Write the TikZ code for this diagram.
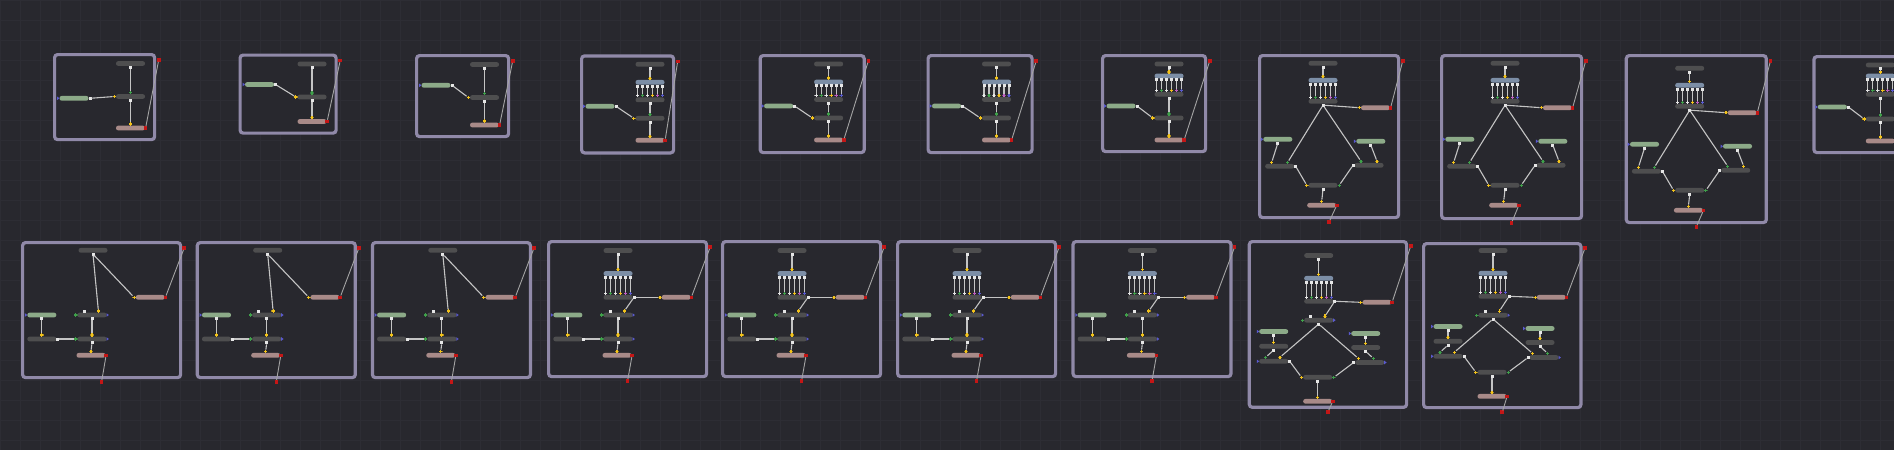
\documentclass[tikz,border=0pt]{standalone}
\usetikzlibrary{positioning}

\definecolor{bgDark}{HTML}{28282E}
\definecolor{gridDark}{HTML}{2D2D34}
\definecolor{frameLav}{HTML}{9089A8}
\definecolor{barGray}{HTML}{4E4E4F}
\definecolor{barGreen}{HTML}{8CAA88}
\definecolor{barPink}{HTML}{A88A88}
\definecolor{barBlue}{HTML}{7C8EA6}
\definecolor{sockWhite}{HTML}{E6E6E6}
\definecolor{sockYellow}{HTML}{F2C21A}
\definecolor{sockGreen}{HTML}{3FA04A}
\definecolor{sockBlue}{HTML}{5A5AD0}
\definecolor{sockMagenta}{HTML}{C060C0}
\definecolor{sockRed}{HTML}{C41616}
\definecolor{wireGray}{HTML}{C4C4C4}
\definecolor{linkGray}{HTML}{A4A4A4}

\tikzset{
  bar/.style={rectangle, rounded corners=2.2pt, minimum width=29pt, minimum height=4.7pt,
    inner sep=0pt, outer sep=0pt, fill=#1},
  graybar/.style={bar=barGray},
  greenbar/.style={bar=barGreen},
  pinkbar/.style={bar=barPink},
  bluebar/.style={bar=barBlue},
  outsq/.style={rectangle, fill=sockWhite, minimum size=3pt, inner sep=0pt, outer sep=0pt},
  redsq/.style={rectangle, fill=sockRed, minimum size=3.6pt, inner sep=0pt, outer sep=0pt},
  insock/.style={rectangle, minimum size=3.4pt, inner sep=0pt, outer sep=0pt,
    path picture={
      \fill[#1] ([xshift=-0.55pt]path picture bounding box.north) rectangle ([xshift=0.55pt]path picture bounding box.south);
      \fill[#1] ([yshift=-0.55pt]path picture bounding box.west) rectangle ([yshift=0.55pt]path picture bounding box.east);}},
  insock/.default=sockYellow,
  intri/.style={rectangle, minimum width=2.4pt, minimum height=3.6pt, inner sep=0pt, outer sep=0pt,
    path picture={\fill[sockBlue] (path picture bounding box.north west) -- (path picture bounding box.east)
      -- (path picture bounding box.south west) -- cycle;}},
  panelframe/.style={rectangle, draw=frameLav, line width=3.2pt, rounded corners=3pt, fill=bgDark,
    inner sep=0pt, anchor=north west},
  wire/.style={draw=wireGray, line width=1.1pt},
  link/.style={draw=linkGray, line width=0.9pt},
  gridline/.style={draw=gridDark, line width=0.5pt},
}

% stems between the blue node and the node below it
\newcommand\combstems[1]{%
  \foreach \stem/\stemc in {0/sockWhite,1/sockGreen,2/sockWhite,3/sockYellow,4/sockMagenta,5/sockBlue}{%
    \node[outsq, anchor=north] (#1-bo\stem) at ([xshift={-12.5pt+5pt*\stem}]#1-blue.south) {};
    \node[insock=\stemc, anchor=south] (#1-ci\stem) at ([xshift={-12.5pt+5pt*\stem}]#1-comb.north) {};
    \draw[wire] (#1-bo\stem) -- (#1-ci\stem);
  }}

% top node, blue node, combine node
\newcommand\combhead[5]{%
  \node[graybar] (#1-top) at (#2,#3) {};
  \node[bluebar] (#1-blue) at (#2,#4) {};
  \node[graybar] (#1-comb) at (#2,#5) {};
  \node[outsq, below=0pt of #1-top] (#1-topo) {};
  \node[insock, above=0pt of #1-blue] (#1-bluei) {};
  \draw[wire] (#1-topo) -- (#1-bluei);
  \combstems{#1}}

% name, x, y, w, h, green y
\newcommand\chainpanel[6]{%
\begin{scope}[shift={(#2,#3)}]
  \node[panelframe, minimum width=#4pt, minimum height=#5pt] (#1) at (0,0) {};
  \node[graybar] (#1-top) at ({#4-22.5},10.5) {};
  \node[graybar] (#1-mid) at ({#4-22.5},43.5) {};
  \node[pinkbar] (#1-out) at ({#4-22.5},{#5-10}) {};
  \node[greenbar] (#1-src) at (21,#6) {};
  \node[outsq, below=0pt of #1-top] (#1-topo) {};
  \node[insock=sockGreen, above=0pt of #1-mid] (#1-midi) {};
  \node[insock, left=0pt of #1-mid] (#1-midl) {};
  \node[outsq, below=0pt of #1-mid] (#1-mido) {};
  \node[insock, above=0pt of #1-out] (#1-outi) {};
  \node[redsq, right=-1.2pt of #1-out] (#1-outr) {};
  \node[intri, left=0pt of #1-src] (#1-srci) {};
  \node[outsq, right=0pt of #1-src] (#1-srco) {};
  \node[redsq] (#1-rt) at ([xshift=2.5pt,yshift=-7pt]#1.north east) {};
  \draw[wire] (#1-topo) -- (#1-midi);
  \draw[wire] (#1-mido) -- (#1-outi);
  \draw[wire] (#1-srco) -- (#1-midl);
  \draw[link] (#1-outr) -- (#1-rt);
\end{scope}}

% name, x, y, w, h, column x, blue y, combine y
\newcommand\combpanel[8]{%
\begin{scope}[shift={(#2,#3)}]
  \node[panelframe, minimum width=#4pt, minimum height=#5pt] (#1) at (0,0) {};
  \combhead{#1}{#6}{10}{#7}{#8}
  \node[graybar] (#1-mid) at (#6,64) {};
  \node[pinkbar] (#1-out) at (#6,86) {};
  \node[greenbar] (#1-src) at (20,52) {};
  \node[outsq, below=0pt of #1-comb] (#1-combo) {};
  \node[insock=sockGreen, above=0pt of #1-mid] (#1-midi) {};
  \node[insock, left=0pt of #1-mid] (#1-midl) {};
  \node[outsq, below=0pt of #1-mid] (#1-mido) {};
  \node[insock, above=0pt of #1-out] (#1-outi) {};
  \node[redsq, right=-1.2pt of #1-out] (#1-outr) {};
  \node[intri, left=0pt of #1-src] (#1-srci) {};
  \node[outsq, right=0pt of #1-src] (#1-srco) {};
  \node[redsq] (#1-rt) at ([xshift=2.5pt,yshift=-7pt]#1.north east) {};
  \draw[wire] (#1-combo) -- (#1-midi);
  \draw[wire] (#1-mido) -- (#1-outi);
  \draw[wire] (#1-srco) -- (#1-midl);
  \draw[link] (#1-outr) -- (#1-rt);
\end{scope}}

% name, x, y, w, h, inner shift down
\newcommand\diamondpanel[6]{%
\begin{scope}[shift={(#2,#3)}]
  \node[panelframe, minimum width=#4pt, minimum height=#5pt] (#1) at (0,0) {};
  \node[redsq] (#1-rt) at ([xshift=2.5pt,yshift=-7pt]#1.north east) {};
  \node[redsq] (#1-rb) at ([yshift=-2.5pt]#1.south) {};
  \begin{scope}[yshift=-#6pt]
    \combhead{#1}{65}{9.3}{26.3}{47.3}
    \node[pinkbar] (#1-out) at (117.5,53.7) {};
    \node[greenbar] (#1-srcl) at (19.8,85.3) {};
    \node[graybar] (#1-mixl) at (21.7,112.3) {};
    \node[greenbar] (#1-srcr) at (112.8,87.3) {};
    \node[graybar] (#1-mixr) at (111,111.3) {};
    \node[graybar] (#1-join) at (65,131.3) {};
    \node[pinkbar] (#1-outb) at (63.7,151.3) {};
    \node[outsq, below=0pt of #1-comb] (#1-combo) {};
    \node[insock, left=0pt of #1-out] (#1-outi) {};
    \node[redsq, right=-1.2pt of #1-out] (#1-outr) {};
    \node[intri, left=0pt of #1-srcl] (#1-srcli) {};
    \node[outsq, below=0pt of #1-srcl] (#1-srclo) {};
    \node[insock, anchor=south] (#1-mixla) at ([xshift=-8pt]#1-mixl.north) {};
    \node[insock=sockGreen, anchor=south] (#1-mixlb) at ([xshift=8pt]#1-mixl.north) {};
    \node[outsq, right=0pt of #1-mixl] (#1-mixlo) {};
    \node[intri, left=0pt of #1-srcr] (#1-srcri) {};
    \node[outsq, below=0pt of #1-srcr] (#1-srcro) {};
    \node[insock=sockGreen, anchor=south] (#1-mixra) at ([xshift=-8pt]#1-mixr.north) {};
    \node[insock, anchor=south] (#1-mixrb) at ([xshift=8pt]#1-mixr.north) {};
    \node[outsq, left=0pt of #1-mixr] (#1-mixro) {};
    \node[insock, left=0pt of #1-join] (#1-joinl) {};
    \node[insock=sockGreen, right=0pt of #1-join] (#1-joinr) {};
    \node[outsq, below=0pt of #1-join] (#1-joino) {};
    \node[insock, above=0pt of #1-outb] (#1-outbi) {};
    \node[redsq, right=-1.2pt of #1-outb] (#1-outbr) {};
    \draw[wire] (#1-combo) -- (#1-outi);
    \draw[wire] (#1-combo) -- (#1-mixlb);
    \draw[wire] (#1-combo) -- (#1-mixra);
    \draw[wire] (#1-srclo) -- (#1-mixla);
    \draw[wire] (#1-srcro) -- (#1-mixrb);
    \draw[wire] (#1-mixlo) -- (#1-joinl);
    \draw[wire] (#1-mixro) -- (#1-joinr);
    \draw[wire] (#1-joino) -- (#1-outbi);
  \end{scope}
  \draw[link] (#1-outr) -- (#1-rt);
  \draw[link] (#1-outbr) -- (#1-rb);
\end{scope}}

% lower part shared by the split panels: name, row y of switch, row y of mix, pink y
\newcommand\splitbody[4]{%
  \node[greenbar] (#1-src) at (20.8,#2) {};
  \node[graybar] (#1-sw) at (71,#2) {};
  \node[graybar] (#1-pre) at (20.8,#3) {};
  \node[graybar] (#1-mix) at (71,#3) {};
  \node[pinkbar] (#1-outb) at (70,#4) {};
  \node[intri, left=0pt of #1-src] (#1-srci) {};
  \node[outsq, below=0pt of #1-src] (#1-srco) {};
  \node[insock=sockGreen, left=0pt of #1-sw] (#1-swl) {};
  \node[intri, right=0pt of #1-sw] (#1-swr) {};
  \node[outsq, anchor=south] (#1-swt) at ([xshift=-8pt]#1-sw.north) {};
  \node[insock, anchor=south] (#1-swi) at ([xshift=6.4pt]#1-sw.north) {};
  \node[outsq, below=0pt of #1-sw] (#1-swo) {};
  \node[insock, above=0pt of #1-pre] (#1-prei) {};
  \node[outsq, right=0pt of #1-pre] (#1-preo) {};
  \node[insock=sockGreen, left=0pt of #1-mix] (#1-mixl) {};
  \node[intri, right=0pt of #1-mix] (#1-mixr) {};
  \node[insock, above=0pt of #1-mix] (#1-mixi) {};
  \node[outsq, below=0pt of #1-mix] (#1-mixo) {};
  \node[insock, above=0pt of #1-outb] (#1-outbi) {};
  \node[redsq, right=-1.2pt of #1-outb] (#1-outbr) {};
  \draw[wire] (#1-srco) -- (#1-prei);
  \draw[wire] (#1-preo) -- (#1-mixl);
  \draw[wire] (#1-swo) -- (#1-mixi);
  \draw[wire] (#1-mixo) -- (#1-outbi);}

% name, x, y, w, h
\newcommand\splitpanel[5]{%
\begin{scope}[shift={(#2,#3)}]
  \node[panelframe, minimum width=#4pt, minimum height=#5pt] (#1) at (0,0) {};
  \node[redsq] (#1-rt) at ([xshift=2pt,yshift=-7pt]#1.north east) {};
  \node[redsq] (#1-rb) at ([yshift=-2.5pt]#1.south) {};
  \node[graybar] (#1-top) at (72,9.3) {};
  \node[pinkbar] (#1-out) at (129.3,56.3) {};
  \node[outsq, below=0pt of #1-top] (#1-topo) {};
  \node[insock, left=0pt of #1-out] (#1-outi) {};
  \node[redsq, right=-1.2pt of #1-out] (#1-outr) {};
  \splitbody{#1}{74}{98}{114.3}
  \draw[wire] (#1-topo) -- (#1-swi);
  \draw[wire] (#1-topo) -- (#1-outi);
  \draw[link] (#1-outr) -- (#1-rt);
  \draw[link] (#1-outbr) -- (#1-rb);
\end{scope}}

% name, x, y, w, h
\newcommand\combsplitpanel[5]{%
\begin{scope}[shift={(#2,#3)}]
  \node[panelframe, minimum width=#4pt, minimum height=#5pt] (#1) at (0,0) {};
  \node[redsq] (#1-rt) at ([xshift=2pt,yshift=-7pt]#1.north east) {};
  \node[redsq] (#1-rb) at ([yshift=-2.5pt]#1.south) {};
  \combhead{#1}{71}{10.5}{33.5}{57.3}
  \node[pinkbar] (#1-out) at (129.2,57.3) {};
  \node[outsq, right=0pt of #1-comb] (#1-combo) {};
  \node[insock, left=0pt of #1-out] (#1-outi) {};
  \node[redsq, right=-1.2pt of #1-out] (#1-outr) {};
  \splitbody{#1}{75}{99}{115.3}
  \draw[wire] (#1-combo) -- (#1-outi);
  \draw[wire] (#1-combo) -- (#1-swi);
  \draw[link] (#1-outr) -- (#1-rt);
  \draw[link] (#1-outbr) -- (#1-rb);
\end{scope}}

% name, x, y, w, h, inner shift down
\newcommand\quadpanel[6]{%
\begin{scope}[shift={(#2,#3)}]
  \node[panelframe, minimum width=#4pt, minimum height=#5pt] (#1) at (0,0) {};
  \node[redsq] (#1-rt) at ([xshift=2.5pt,yshift=-6pt]#1.north east) {};
  \node[redsq] (#1-rb) at ([yshift=-3pt]#1.south) {};
  \begin{scope}[yshift=-#6pt]
    \combhead{#1}{71}{8.5}{31.3}{54.3}
    \node[pinkbar] (#1-out) at (129.3,55.3) {};
    \node[graybar] (#1-sw) at (71,73.2) {};
    \node[greenbar] (#1-srcl) at (26,84.5) {};
    \node[graybar] (#1-prel) at (26,99.3) {};
    \node[graybar] (#1-mixl) at (26,114.3) {};
    \node[greenbar] (#1-srcr) at (118,86.5) {};
    \node[graybar] (#1-prer) at (118,100.5) {};
    \node[graybar] (#1-mixr) at (122,115.5) {};
    \node[graybar] (#1-join) at (70,130.3) {};
    \node[pinkbar] (#1-outb) at (70,154.3) {};
    \node[outsq, right=0pt of #1-comb] (#1-combo) {};
    \node[insock, left=0pt of #1-out] (#1-outi) {};
    \node[redsq, right=-1.2pt of #1-out] (#1-outr) {};
    \node[insock=sockGreen, left=0pt of #1-sw] (#1-swl) {};
    \node[intri, right=0pt of #1-sw] (#1-swr) {};
    \node[outsq, anchor=south] (#1-swt) at ([xshift=-8pt]#1-sw.north) {};
    \node[insock, anchor=south] (#1-swi) at ([xshift=6.3pt]#1-sw.north) {};
    \node[outsq, below=0pt of #1-sw] (#1-swo) {};
    \node[intri, left=0pt of #1-srcl] (#1-srcli) {};
    \node[outsq, below=0pt of #1-srcl] (#1-srclo) {};
    \node[insock, above=0pt of #1-prel] (#1-preli) {};
    \node[outsq, below=0pt of #1-prel] (#1-prelo) {};
    \node[intri, left=0pt of #1-mixl] (#1-mixlt) {};
    \node[insock=sockGreen, anchor=south] (#1-mixla) at ([xshift=-8pt]#1-mixl.north) {};
    \node[insock, anchor=south] (#1-mixlb) at ([xshift=6.3pt]#1-mixl.north) {};
    \node[outsq, right=0pt of #1-mixl] (#1-mixlo) {};
    \node[intri, left=0pt of #1-srcr] (#1-srcri) {};
    \node[outsq, below=0pt of #1-srcr] (#1-srcro) {};
    \node[insock, above=0pt of #1-prer] (#1-preri) {};
    \node[outsq, below=0pt of #1-prer] (#1-prero) {};
    \node[intri, right=0pt of #1-mixr] (#1-mixrt) {};
    \node[insock, anchor=south] (#1-mixra) at ([xshift=-11.3pt]#1-mixr.north) {};
    \node[insock=sockGreen, anchor=south] (#1-mixrb) at ([xshift=3.7pt]#1-mixr.north) {};
    \node[outsq, left=0pt of #1-mixr] (#1-mixro) {};
    \node[insock, left=0pt of #1-join] (#1-joinl) {};
    \node[insock=sockGreen, right=0pt of #1-join] (#1-joinr) {};
    \node[outsq, below=0pt of #1-join] (#1-joino) {};
    \node[insock, above=0pt of #1-outb] (#1-outbi) {};
    \node[redsq, right=-1.2pt of #1-outb] (#1-outbr) {};
    \draw[wire] (#1-combo) -- (#1-outi);
    \draw[wire] (#1-combo) -- (#1-swi);
    \draw[wire] (#1-swo) -- (#1-mixlb);
    \draw[wire] (#1-swo) -- (#1-mixra);
    \draw[wire] (#1-srclo) -- (#1-preli);
    \draw[wire] (#1-prelo) -- (#1-mixla);
    \draw[wire] (#1-srcro) -- (#1-preri);
    \draw[wire] (#1-prero) -- (#1-mixrb);
    \draw[wire] (#1-mixlo) -- (#1-joinl);
    \draw[wire] (#1-mixro) -- (#1-joinr);
    \draw[wire] (#1-joino) -- (#1-outbi);
  \end{scope}
  \draw[link] (#1-outr) -- (#1-rt);
  \draw[link] (#1-outbr) -- (#1-rb);
\end{scope}}

\begin{document}
\begin{tikzpicture}[x=1pt,y=-1pt]
    \useasboundingbox (0,0) rectangle (1894,450);
    \clip (0,0) rectangle (1894,450);
    \fill[bgDark] (0,0) rectangle (1894,450);
    \foreach \gx in {0,20,...,1880} \draw[gridline] (\gx,0) -- (\gx,450);
    \foreach \gy in {0,20,...,440} \draw[gridline] (0,\gy) -- (1894,\gy);

    % top row
    \chainpanel{a}{53}{53}{100}{85}{45.3}
    \chainpanel{b}{238.5}{53.5}{96}{78}{31}
    \chainpanel{c}{415}{54}{92}{81}{31.3}
    \combpanel{d}{580}{54.3}{92}{97}{70}{28}{45.5}
    \combpanel{e}{758.6}{54}{104}{97}{70}{28}{45.5}
    \combpanel{f}{926.5}{54}{104}{97}{70}{28}{45.5}
    \combpanel{g}{1101}{54}{103}{96}{68}{22}{40.3}
    \diamondpanel{h}{1258}{54}{139}{162}{0}
    \diamondpanel{i}{1440}{54}{140}{163}{0}
    \diamondpanel{j}{1624.7}{54}{140}{167}{5}
    \combpanel{k}{1812.3}{55}{104}{96}{68}{21}{39.3}

    % bottom row
    \splitpanel{l}{21}{241}{158}{135}
    \splitpanel{m}{195.7}{241}{158}{135}
    \splitpanel{n}{370.8}{241}{158}{135}
    \combsplitpanel{o}{547}{240}{158}{135}
    \combsplitpanel{p}{721}{240}{158}{135}
    \combsplitpanel{q}{896}{240}{158}{135}
    \combsplitpanel{r}{1071.4}{240}{158}{135}
    \quadpanel{s}{1247.7}{240}{157.3}{165.7}{7}
    \quadpanel{t}{1422}{242}{157.3}{164}{0}
\end{tikzpicture}
\end{document}
